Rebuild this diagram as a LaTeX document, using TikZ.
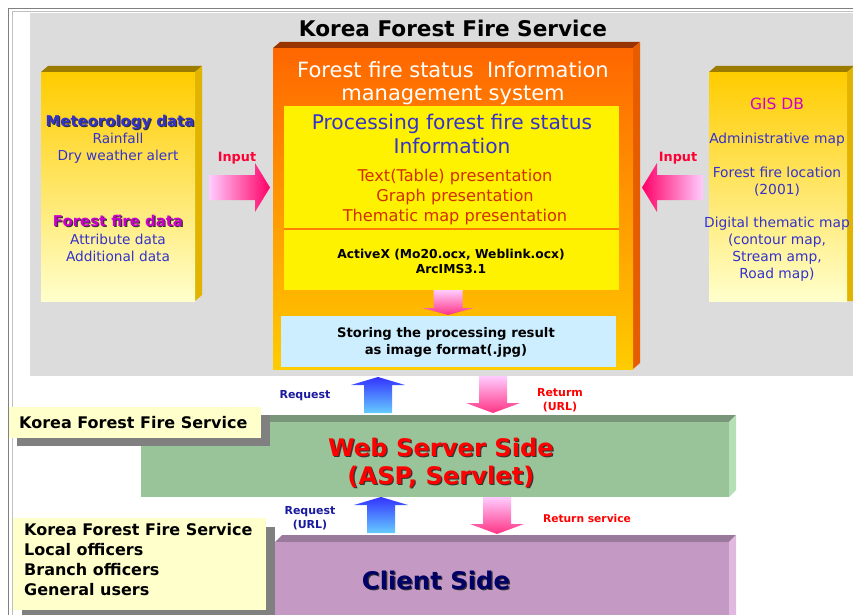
\documentclass[tikz,border=0pt]{standalone}
\usepackage{fontspec}
\setmainfont{DejaVu Sans}
\definecolor{bggray}{HTML}{DCDCDC}
\definecolor{frameg}{HTML}{808080}
\definecolor{orT}{HTML}{FF6600}
\definecolor{orB}{HTML}{FFCC00}
\definecolor{orTop}{HTML}{993300}
\definecolor{orSide}{HTML}{E65C00}
\definecolor{ylT}{HTML}{FFCC00}
\definecolor{ylB}{HTML}{FFFFCC}
\definecolor{ylTop}{HTML}{9C7C00}
\definecolor{ylSide}{HTML}{E0B400}
\definecolor{txblue}{HTML}{3333CC}
\definecolor{txmag}{HTML}{CC00CC}
\definecolor{txred}{HTML}{D03000}
\definecolor{inred}{HTML}{FF0033}
\definecolor{reqblue}{HTML}{1A1AA0}
\definecolor{lblue}{HTML}{CCEEFF}
\definecolor{pinkL}{HTML}{FFCCFF}
\definecolor{pinkD}{HTML}{FF0066}
\definecolor{blueT}{HTML}{3333FF}
\definecolor{blueB}{HTML}{66CCFF}
\definecolor{grn}{HTML}{99C499}
\definecolor{grnTop}{HTML}{7A967A}
\definecolor{grnSide}{HTML}{B5E0B5}
\definecolor{pur}{HTML}{C49AC4}
\definecolor{purTop}{HTML}{9A7A9A}
\definecolor{purSide}{HTML}{E0B8E0}
\definecolor{lyel}{HTML}{FFFFCC}
\definecolor{navy}{HTML}{000066}
\tikzset{
  txt/.style={inner sep=0pt, align=center, font=#1},
  lblbox/.style={fill=lyel, draw=none, inner sep=0pt},
  shadowbox/.style={fill=frameg, draw=none},
  pics/darrow/.style={code={
    \path[shade, top color=pinkL, bottom color=pinkD!80]
      (-14,0) -- (14,0) -- (14,27) -- (27,27) -- (0,37) -- (-27,27) -- (-14,27) -- cycle;}},
  pics/sarrow/.style={code={
    \path[shade, top color=pinkL, bottom color=pinkD!80]
      (-14.5,0) -- (14.5,0) -- (14.5,18) -- (25.5,18) -- (0,25) -- (-25.5,18) -- (-14.5,18) -- cycle;}},
  pics/uarrow/.style={code={
    \path[shade, top color=blueT, bottom color=blueB]
      (0,0) -- (27,8) -- (14,8) -- (14,36) -- (-14,36) -- (-14,8) -- (-27,8) -- cycle;}},
  pics/rarrow/.style={code={
    \path[shade, left color=pinkL, right color=pinkD]
      (0,-12.5) -- (46,-12.5) -- (46,-24.5) -- (61,0) -- (46,24.5) -- (46,12.5) -- (0,12.5) -- cycle;}},
  pics/larrow/.style={code={
    \path[shade, right color=pinkL, left color=pinkD]
      (0,-12.5) -- (-46,-12.5) -- (-46,-24.5) -- (-61,0) -- (-46,24.5) -- (-46,12.5) -- (0,12.5) -- cycle;}},
}
\newcommand{\shtext}[4]{% position, colour, font, text; dark drop shadow
  \node[txt={#3}, text=black!80] at ([xshift=1.2pt,yshift=-1.2pt]#1) {#4};
  \node[txt={#3}, text=#2] at (#1) {#4};}
\begin{document}
\begin{tikzpicture}[x=1pt,y=-1pt]
\useasboundingbox (0,0) rectangle (853,615);
\fill[white] (0,0) rectangle (853,615);
% outer frame
\draw[frameg, line width=0.8pt] (8,615) -- (8,8) -- (853,8);
\draw[black!25, line width=0.6pt] (12,615) -- (12,11) -- (853,11);
% gray area
\node[fill=bggray, inner sep=0pt, minimum width=823, minimum height=363, anchor=north west] (bg) at (30,13) {};
\node[txt={\bfseries\fontsize{21.6}{24}\selectfont}] (title) at (453,28) {Korea Forest Fire Service};

% central orange box
\fill[orTop] (273,48) -- (280,42) -- (640,42) -- (633,48) -- cycle;
\fill[orSide] (633,48) -- (640,42) -- (640,363) -- (633,369) -- cycle;
\node[shade, top color=orT, bottom color=orB, middle color=orT!50!orB, inner sep=0pt, minimum width=360, minimum height=321, anchor=north west] (fis) at (273,48) {};
\node[txt={\fontsize{21}{23}\selectfont}, text=white] (fistitle) at (453,83) {Forest fire status\ \ Information\\management system};
\node[fill=yellow, inner sep=0pt, minimum width=335, minimum height=184, anchor=north west] (proc) at (284,106) {};
\draw[orange, line width=1.2pt] (284,229) -- (619,229);
\node[txt={\fontsize{20.2}{24}\selectfont}, text=txblue] (proct) at (452,134) {Processing forest fire status\\Information};
\node[txt={\fontsize{16.2}{20}\selectfont}, text=txred] (pres) at (455,197) {Text(Table) presentation\\Graph presentation\\Thematic map presentation};
\node[txt={\bfseries\fontsize{12.3}{15}\selectfont}] (activex) at (451,261) {ActiveX (Mo20.ocx, Weblink.ocx)\\ArcIMS3.1};
\pic at (448,290) {sarrow};
\node[fill=lblue, inner sep=0pt, minimum width=335, minimum height=51, anchor=north west] (store) at (281,316) {};
\node[txt={\bfseries\fontsize{13.2}{17}\selectfont}] (storet) at (446,342) {Storing the processing result\\as image format(.jpg)};

% left yellow box
\fill[ylTop] (41,72) -- (48,66) -- (202,66) -- (195,72) -- cycle;
\fill[ylSide] (195,72) -- (202,66) -- (202,295) -- (195,301) -- cycle;
\node[shade, top color=ylT, bottom color=ylB, inner sep=0pt, minimum width=154, minimum height=229, anchor=north west] (met) at (41,72) {};
\shtext{120,122}{txblue}{\bfseries\fontsize{14.9}{16}\selectfont}{Meteorology data}
\node[txt={\fontsize{13.7}{17}\selectfont}, text=txblue] (metsub) at (118,148.5) {Rainfall\\Dry weather alert};
\shtext{118,221}{txmag}{\bfseries\fontsize{14.9}{16}\selectfont}{Forest fire data}
\node[txt={\fontsize{13.7}{17}\selectfont}, text=txblue] (ffsub) at (118,247.5) {Attribute data\\Additional data};

% right yellow box
\fill[ylTop] (709,72) -- (716,66) -- (853,66) -- (853,72) -- cycle;
\fill[ylSide] (847,72) -- (853,67) -- (853,301) -- (847,301) -- cycle;
\node[shade, top color=ylT, bottom color=ylB, inner sep=0pt, minimum width=138, minimum height=229, anchor=north west] (gis) at (709,72) {};
\node[txt={\fontsize{15.5}{16}\selectfont}, text=txmag] (gist) at (777,104) {GIS DB};
\node[txt={\fontsize{13.8}{17}\selectfont}, text=txblue] (adm) at (777,140) {Administrative map};
\node[txt={\fontsize{13.8}{17}\selectfont}, text=txblue] (loc) at (777,181.5) {Forest fire location\\(2001)};
\node[txt={\fontsize{13.8}{17}\selectfont}, text=txblue] (dig) at (777,249.5) {Digital thematic map\\(contour map,\\Stream amp,\\Road map)};

% input arrows
\pic at (209,187.5) {rarrow};
\node[txt={\bfseries\fontsize{12.8}{14}\selectfont}, text=inred] (in1) at (237,158) {Input};
\pic at (703,187.5) {larrow};
\node[txt={\bfseries\fontsize{12.8}{14}\selectfont}, text=inred] (in2) at (678,158) {Input};

% web server box
\fill[grnTop] (141,422) -- (148,415) -- (736,415) -- (729,422) -- cycle;
\fill[grnSide] (729,422) -- (736,415) -- (736,490) -- (729,497) -- cycle;
\node[fill=grn, inner sep=0pt, minimum width=588, minimum height=75, anchor=north west] (web) at (141,422) {};
\shtext{441,447}{red}{\bfseries\fontsize{24.2}{26}\selectfont}{Web Server Side}
\shtext{441,477}{red}{\bfseries\fontsize{24.2}{26}\selectfont}{(ASP, Servlet)}
% KFFS label
\node[shadowbox, inner sep=0pt, minimum width=253, minimum height=31, anchor=north west] (kshadow) at (17,415) {};
\node[lblbox, minimum width=252, minimum height=31, anchor=north west] (klabel) at (9,407) {};
\node[txt={\bfseries\fontsize{16}{18}\selectfont}, anchor=west] (kt) at (19,423) {Korea Forest Fire Service};

% request / return arrows top
\pic at (378,377) {uarrow};
\node[txt={\bfseries\fontsize{11}{14}\selectfont}, text=reqblue] (req1) at (305,396) {Request};
\pic at (493,376) {darrow};
\node[txt={\bfseries\fontsize{11}{14}\selectfont}, text=red] (ret1) at (560,400) {Returm\\(URL)};

% client box
\fill[purTop] (275,542) -- (282,535) -- (736,535) -- (729,542) -- cycle;
\fill[purSide] (729,542) -- (736,535) -- (736,615) -- (729,615) -- cycle;
\node[fill=pur, inner sep=0pt, minimum width=454, minimum height=73, anchor=north west] (client) at (275,542) {};
\shtext{436,580}{navy}{\bfseries\fontsize{24.3}{26}\selectfont}{Client Side}
% users label
\node[shadowbox, inner sep=0pt, minimum width=253, minimum height=88, anchor=north west] (ushadow) at (22,527) {};
\node[lblbox, minimum width=253, minimum height=92, anchor=north west] (ulabel) at (13,518) {};
\node[txt={\bfseries\fontsize{16}{20}\selectfont}, align=left, anchor=north west] (ut) at (24,523) {Korea Forest Fire Service\\Local officers\\Branch officers\\General users};

% request / return arrows bottom
\pic at (381,497) {uarrow};
\node[txt={\bfseries\fontsize{11}{14}\selectfont}, text=reqblue] (req2) at (310,518) {Request\\(URL)};
\pic at (497,497) {darrow};
\node[txt={\bfseries\fontsize{10.7}{13}\selectfont}, text=red] (ret2) at (587,519) {Return service};
\end{tikzpicture}
\end{document}
